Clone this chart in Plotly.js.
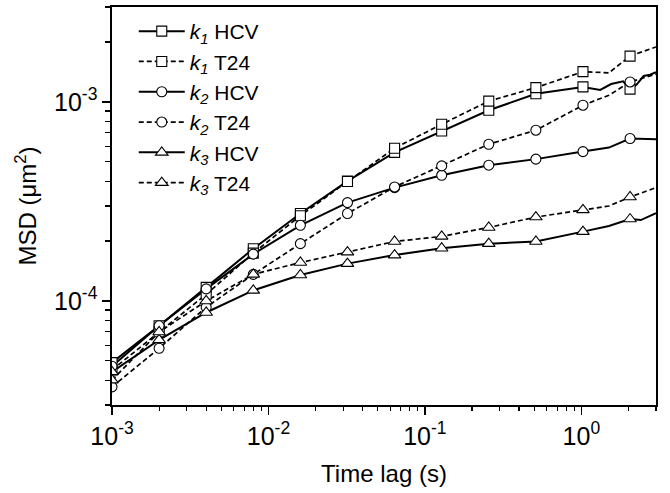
<!DOCTYPE html>
<html>
<head>
<meta charset="utf-8">
<script src="https://cdn.plot.ly/plotly-3.0.1.min.js"></script>
<style>html,body{margin:0;padding:0;background:#fff;}</style>
</head>
<body>
<div id="chart" style="width:670px;height:493px;"></div>
<script>
// Time lags (s) where markers are drawn
const lags = [0.001, 0.002, 0.004, 0.008, 0.016, 0.032, 0.064, 0.128, 0.256, 0.512, 1.024, 2.048];

// MSD values (um^2) at the lags
const k1HCV = [4.9e-5, 7.5e-5, 1.17e-4, 1.83e-4, 2.75e-4, 4.0e-4, 5.58e-4, 7.15e-4, 9.08e-4, 1.10e-3, 1.19e-3, 1.16e-3];
const k1T24 = [4.5e-5, 7.0e-5, 1.08e-4, 1.74e-4, 2.68e-4, 3.98e-4, 5.85e-4, 7.72e-4, 1.01e-3, 1.18e-3, 1.42e-3, 1.70e-3];
const k2HCV = [4.7e-5, 7.5e-5, 1.15e-4, 1.72e-4, 2.40e-4, 3.12e-4, 3.71e-4, 4.28e-4, 4.81e-4, 5.16e-4, 5.63e-4, 6.55e-4];
const k2T24 = [3.7e-5, 5.78e-5, 9.3e-5, 1.36e-4, 1.94e-4, 2.75e-4, 3.74e-4, 4.77e-4, 6.13e-4, 7.21e-4, 9.63e-4, 1.26e-3];
const k3HCV = [4.4e-5, 6.37e-5, 8.75e-5, 1.13e-4, 1.35e-4, 1.54e-4, 1.70e-4, 1.84e-4, 1.94e-4, 1.99e-4, 2.23e-4, 2.58e-4];
const k3T24 = [4.0e-5, 6.98e-5, 1.0e-4, 1.36e-4, 1.56e-4, 1.76e-4, 1.99e-4, 2.11e-4, 2.34e-4, 2.64e-4, 2.87e-4, 3.33e-4];

// Extra line points read between/after the last markers
const k1HCVtailX = [1.32, 1.55, 1.85, 2.25, 2.5, 2.75, 3.0];
const k1HCVtailY = [1.15e-3, 1.23e-3, 1.27e-3, 1.22e-3, 1.35e-3, 1.37e-3, 1.41e-3];
const k1T24tailX = [1.5, 3.0];
const k1T24tailY = [1.40e-3, 1.89e-3];
const k2HCVtailX = [1.5, 3.0];
const k2HCVtailY = [5.9e-4, 6.5e-4];
const k2T24tailX = [1.5, 3.0];
const k2T24tailY = [1.08e-3, 1.38e-3];
const k3HCVtailX = [1.5, 2.4, 3.0];
const k3HCVtailY = [2.38e-4, 2.55e-4, 2.76e-4];
const k3T24tailX = [1.5, 3.0];
const k3T24tailY = [3.0e-4, 3.71e-4];

const names = ['<i>k</i><sub><i>1</i></sub> HCV', '<i>k</i><sub><i>1</i></sub> T24',
               '<i>k</i><sub><i>2</i></sub> HCV', '<i>k</i><sub><i>2</i></sub> T24',
               '<i>k</i><sub><i>3</i></sub> HCV', '<i>k</i><sub><i>3</i></sub> T24'];

const xTickVals = [1e-3, 1e-2, 1e-1, 1];
const xTickText = ['10<sup>-3</sup>', '10<sup>-2</sup>', '10<sup>-1</sup>', '10<sup>0</sup>'];
const yTickVals = [1e-4, 1e-3];
const yTickText = ['10<sup>-4</sup>', '10<sup>-3</sup>'];

const series = [
  {v: k1HCV, tx: k1HCVtailX, ty: k1HCVtailY, sym: 'square', dash: 'solid'},
  {v: k1T24, tx: k1T24tailX, ty: k1T24tailY, sym: 'square', dash: '5px,3px'},
  {v: k2HCV, tx: k2HCVtailX, ty: k2HCVtailY, sym: 'circle', dash: 'solid'},
  {v: k2T24, tx: k2T24tailX, ty: k2T24tailY, sym: 'circle', dash: '5px,3px'},
  {v: k3HCV, tx: k3HCVtailX, ty: k3HCVtailY, sym: 'triangle-up', dash: 'solid'},
  {v: k3T24, tx: k3T24tailX, ty: k3T24tailY, sym: 'triangle-up', dash: '5px,3px'}
];

function minorVals(lo, hi) {
  const out = [];
  for (let e = lo; e <= hi; e++) for (let m = 2; m <= 9; m++) out.push(m * Math.pow(10, e));
  return out;
}

const lineTraces = [], markerTraces = [], legendTraces = [];
series.forEach((s, i) => {
  const pts = lags.map((x, j) => [x, s.v[j]]).concat(s.tx.map((x, j) => [x, s.ty[j]]));
  pts.sort((a, b) => a[0] - b[0]);
  const lw = s.dash === 'solid' ? 2 : 1.7;
  lineTraces.push({
    x: pts.map(p => p[0]), y: pts.map(p => p[1]), mode: 'lines', showlegend: false,
    line: {color: '#000', width: lw, dash: s.dash}, hoverinfo: 'skip'
  });
  const msize = s.sym === 'triangle-up' ? 11 : 10;
  markerTraces.push({
    x: lags, y: s.v, mode: 'markers', showlegend: false,
    marker: {symbol: s.sym, size: msize, color: '#fff', line: {color: '#000', width: 1.1}}
  });
  legendTraces.push({
    x: [null], y: [null], mode: 'lines+markers', name: names[i],
    line: {color: '#000', width: lw, dash: s.dash},
    marker: {symbol: s.sym, size: msize, color: '#fff', line: {color: '#000', width: 1.1}}
  });
});

const font = 'Liberation Sans, Arial, sans-serif';
const layout = {
  width: 670, height: 493,
  margin: {l: 112, r: 14, t: 7, b: 88},
  paper_bgcolor: '#fff', plot_bgcolor: '#fff',
  font: {family: font, color: '#000', size: 22},
  showlegend: true,
  legend: {x: 0.04, y: 0.99, xanchor: 'left', yanchor: 'top', bgcolor: 'rgba(0,0,0,0)',
           font: {family: font, size: 21, color: '#000'}, itemwidth: 46, traceorder: 'normal'},
  xaxis: {
    type: 'log', range: [-3, Math.log10(3)],
    showgrid: false, zeroline: false,
    showline: true, linecolor: '#000', linewidth: 1.6, mirror: true,
    ticks: 'outside', ticklen: 8, tickwidth: 1.5, tickcolor: '#000',
    tickmode: 'array', tickvals: xTickVals, ticktext: xTickText,
    tickfont: {family: font, size: 25},
    minor: {ticks: 'outside', ticklen: 4, tickwidth: 1.2, tickcolor: '#000', tickmode: 'array', tickvals: minorVals(-3, 0), showgrid: false},
    title: {text: 'Time lag (s)', font: {family: font, size: 24}, standoff: 16}
  },
  yaxis: {
    type: 'log', range: [Math.log10(3e-5), Math.log10(3e-3)],
    showgrid: false, zeroline: false,
    showline: true, linecolor: '#000', linewidth: 1.6, mirror: true,
    ticks: 'outside', ticklen: 8, tickwidth: 1.5, tickcolor: '#000',
    tickmode: 'array', tickvals: yTickVals, ticktext: yTickText,
    tickfont: {family: font, size: 25},
    minor: {ticks: 'outside', ticklen: 5, tickwidth: 1.2, tickcolor: '#000', tickmode: 'array', tickvals: minorVals(-5, -3), showgrid: false},
    title: {text: 'MSD (\u03bcm<sup>2</sup>)', font: {family: font, size: 24}, standoff: 10}
  }
};

Plotly.newPlot('chart', lineTraces.concat(markerTraces, legendTraces), layout, {displayModeBar: false, staticPlot: true});
</script>
</body>
</html>
